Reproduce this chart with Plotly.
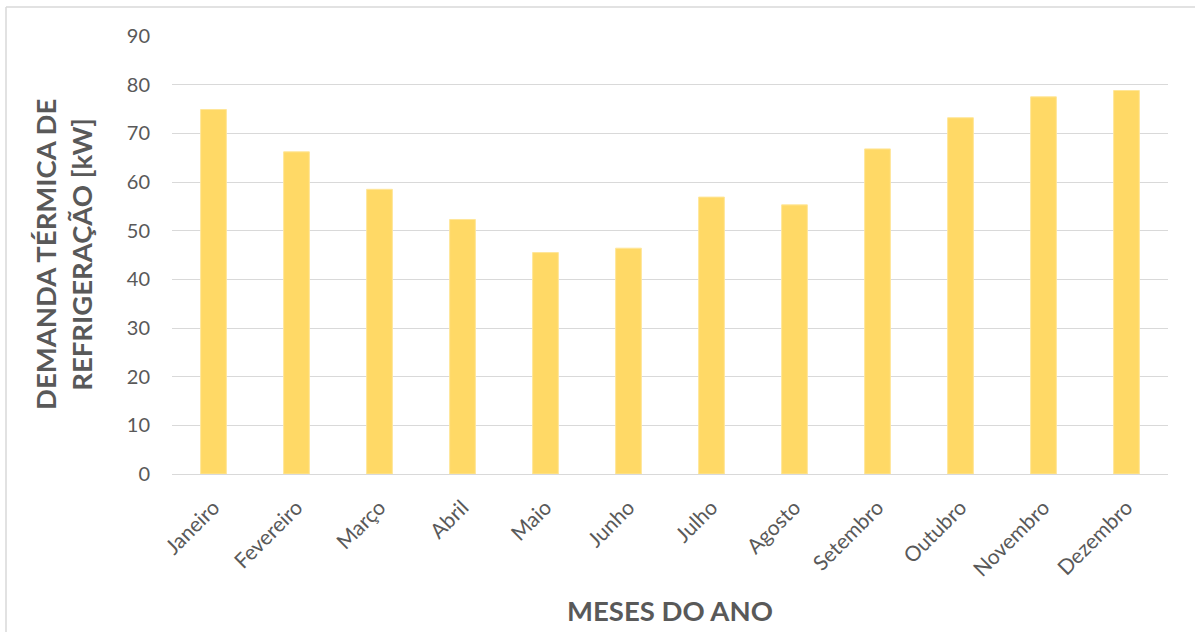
import plotly.graph_objects as go

meses = ["Janeiro", "Fevereiro", "Março", "Abril", "Maio", "Junho",
         "Julho", "Agosto", "Setembro", "Outubro", "Novembro", "Dezembro"]
demanda_kw = [74.9, 66.2, 58.5, 52.3, 45.5, 46.4, 56.9, 55.3, 66.8, 73.2, 77.5, 78.8]
y_ticks = [0, 10, 20, 30, 40, 50, 60, 70, 80, 90]

W, H = 1195, 632
L, R, T, B = 172, 27, 36, 158
plot_w = W - L - R
plot_h = H - T - B


def px_x(px):
    return (px - L) / plot_w


def px_y(py):
    return (H - B - py) / plot_h


text_color = "#595959"
grid_color = "#D9D9D9"
font_family = "Lato, 'Open Sans', sans-serif"

fig = go.Figure(
    go.Bar(
        x=meses,
        y=demanda_kw,
        marker=dict(color="#FFD966", line=dict(color="#FFE699", width=1)),
        hoverinfo="x+y",
    )
)

fig.update_layout(
    width=W,
    height=H,
    margin=dict(l=L, r=R, t=T, b=B),
    paper_bgcolor="white",
    plot_bgcolor="white",
    bargap=0.69,
    showlegend=False,
    font=dict(family=font_family, color=text_color, size=19),
    xaxis=dict(
        tickangle=-45,
        showgrid=False,
        showline=True,
        linecolor=grid_color,
        linewidth=1,
        ticks="",
        ticklabelstandoff=12,
        tickfont=dict(size=21, color=text_color),
    ),
    yaxis=dict(
        range=[0, 90],
        tickvals=y_ticks,
        showgrid=True,
        gridcolor=grid_color,
        gridwidth=1,
        zeroline=False,
        showline=False,
        ticks="",
        ticklabelstandoff=21,
        tickfont=dict(size=20, color=text_color),
    ),
    annotations=[
        dict(
            text="DEMANDA TÉRMICA DE<br>REFRIGERAÇÃO [kW]",
            xref="paper", yref="paper",
            x=px_x(63), y=0.5,
            xanchor="center", yanchor="middle",
            textangle=-90,
            showarrow=False,
            font=dict(family=font_family, size=27.5, color=text_color, weight="bold"),
        ),
        dict(
            text="MESES DO ANO",
            xref="paper", yref="paper",
            x=0.5, y=px_y(610),
            xanchor="center", yanchor="middle",
            showarrow=False,
            font=dict(family=font_family, size=27.5, color=text_color, weight="bold"),
        ),
    ],
    shapes=[
        dict(type="line", xref="paper", yref="paper",
             x0=px_x(6), x1=px_x(6), y0=px_y(7), y1=px_y(H),
             line=dict(color=grid_color, width=1.5)),
        dict(type="line", xref="paper", yref="paper",
             x0=px_x(6), x1=px_x(W), y0=px_y(7), y1=px_y(7),
             line=dict(color=grid_color, width=1.5)),
    ],
)

fig.write_html("out.html")
